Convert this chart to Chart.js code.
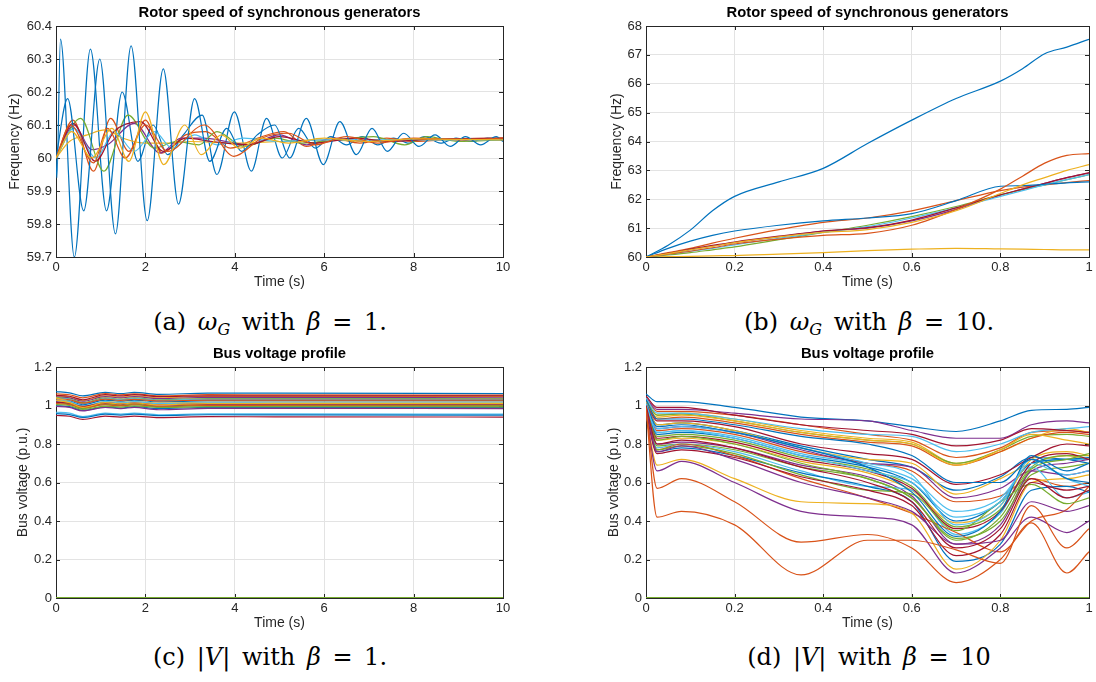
<!DOCTYPE html>
<html>
<head>
<meta charset="utf-8">
<script src="https://cdn.jsdelivr.net/npm/chart.js@4.4.1/dist/chart.umd.min.js"></script>
<style>
  body { margin: 0; background: #fff; width: 1096px; height: 682px; position: relative; overflow: hidden; }
  canvas { position: absolute; }
  .cap { position: absolute; width: 400px; text-align: center; font-family: 'DejaVu Serif', serif;
         font-size: 24px; line-height: 28px; word-spacing: 4px; color: #000; white-space: nowrap; }
  .cap sub { font-size: 16px; vertical-align: -5px; line-height: 0; }
</style>
</head>
<body>
<canvas id="chartA" width="548" height="300" style="left:0;top:0"></canvas>
<canvas id="chartB" width="548" height="300" style="left:548px;top:0"></canvas>
<canvas id="chartC" width="548" height="300" style="left:0;top:341px"></canvas>
<canvas id="chartD" width="548" height="300" style="left:548px;top:341px"></canvas>
<div class="cap" style="left:70px;top:308px">(a) <i>ω<sub>G</sub></i> with <i>β</i> = 1.</div>
<div class="cap" style="left:669px;top:308px">(b) <i>ω<sub>G</sub></i> with <i>β</i> = 10.</div>
<div class="cap" style="left:70px;top:643px">(c) |<i>V</i>| with <i>β</i> = 1.</div>
<div class="cap" style="left:669px;top:643px">(d) |<i>V</i>| with <i>β</i> = 10</div>
<script>
// matlab default line colours, cycled in plot order
const COLORS = ['#0072BD', '#D95319', '#EDB120', '#7E2F8E', '#77AC30', '#4DBEEE', '#A2142F'];

// ---- (a) rotor speed, beta = 1 : [time s, freq Hz] at turning points
const aGen1 = [[0,60],[0.02,59.94],[0.1,60.36],[0.41,59.7],[0.77,60.33],[1.13,59.84],[1.48,60.2],[1.83,59.99],[2.17,60.1],[2.5,60.01],[2.85,60.07],[3.27,60.13],[3.6,59.95],[3.99,60.14],[4.37,59.96],[4.71,60.12],[5.06,60.0],[5.43,60.09],[5.8,60.03],[6.15,60.065],[6.5,60.04],[6.85,60.065],[7.2,60.04],[7.55,60.06],[7.9,60.045],[8.25,60.065],[8.6,60.045],[8.95,60.06],[9.3,60.05],[9.65,60.06],[10,60.055]];
const aGen2 = [[0,60],[0.38,60.115],[0.84,59.96],[1.22,60.12],[1.63,60.02],[2.0,60.115],[2.37,60.015],[2.9,60.07],[3.35,60.08],[3.9,60.03],[4.5,60.06],[5.1,60.08],[5.6,60.035],[6.2,60.06],[6.8,60.045],[7.4,60.06],[8.0,60.05],[9.0,60.058],[10,60.06]];
const aGen3 = [[0,60],[0.3,60.05],[0.7,60.07],[1.1,60.085],[1.5,60.06],[2.0,60.045],[2.5,60.045],[3.0,60.05],[4.0,60.045],[5.0,60.05],[6.0,60.055],[7.0,60.05],[8.0,60.055],[10,60.055]];
const aGen4 = [[0,60],[0.4,60.1],[0.8,60.025],[1.15,60.04],[1.75,60.105],[2.33,60.015],[2.8,60.06],[3.3,60.06],[3.8,60.05],[4.3,60.04],[5.0,60.07],[5.6,60.04],[6.2,60.06],[7.0,60.05],[8.0,60.058],[10,60.055]];
const aGen5 = [[0,60],[0.55,60.12],[1.07,59.96],[1.61,60.13],[2.2,60.03],[2.7,60.05],[3.2,60.04],[3.6,60.08],[4.2,60.035],[4.9,60.06],[5.5,60.045],[6.3,60.055],[7.1,60.065],[7.8,60.04],[8.3,60.065],[9.0,60.05],[10,60.055]];
const aGen6 = [[0,60],[0.4,60.09],[0.9,60.0],[1.3,60.08],[1.75,60.02],[2.2,60.08],[2.6,60.03],[3.1,60.07],[3.6,60.04],[4.2,60.06],[5.0,60.05],[6.0,60.055],[10,60.055]];
const aGen7 = [[0,60],[0.38,60.105],[0.88,59.99],[1.3,60.08],[1.89,60.11],[2.4,60.02],[2.9,60.06],[3.5,60.05],[4.3,60.04],[5.0,60.065],[5.8,60.045],[6.7,60.06],[7.5,60.05],[8.5,60.058],[10,60.06]];
const aGen8 = [[0,60],[0.26,60.18],[0.62,59.84],[0.98,60.3],[1.33,59.77],[1.68,60.34],[2.04,59.81],[2.4,60.27],[2.74,59.86],[3.1,60.18],[3.44,59.99],[3.82,60.09],[4.15,60.02],[4.5,60.07],[4.89,60.1],[5.23,60.0],[5.6,60.12],[5.98,59.98],[6.35,60.11],[6.72,60.01],[7.07,60.09],[7.41,60.02],[7.78,60.075],[8.12,60.035],[8.48,60.07],[8.82,60.035],[9.16,60.065],[9.5,60.04],[9.85,60.065],[10,60.05]];
const aGen9 = [[0,60],[0.33,60.1],[0.84,59.985],[1.15,60.09],[1.55,60.0],[2.0,60.1],[2.5,60.02],[3.32,60.1],[3.98,60.005],[4.6,60.06],[5.2,60.075],[5.8,60.04],[6.5,60.065],[7.2,60.045],[8.0,60.06],[9.0,60.055],[10,60.06]];
const aGen10 = [[0,60],[0.35,60.08],[0.8,60.0],[1.25,60.09],[1.63,59.99],[2.0,60.14],[2.41,59.98],[2.88,60.1],[3.25,60.01],[3.7,60.07],[4.1,60.03],[4.6,60.06],[5.2,60.045],[6.0,60.06],[7.0,60.05],[8.0,60.058],[10,60.055]];
const aSeries = [aGen1, aGen2, aGen3, aGen4, aGen5, aGen6, aGen7, aGen8, aGen9, aGen10];

// ---- (b) rotor speed, beta = 10
const tB = [0, 0.05, 0.1, 0.15, 0.2, 0.3, 0.4, 0.5, 0.6, 0.7, 0.8, 0.85, 0.9, 0.95, 1];
const bGen1 = [60, 60.41, 60.93, 61.6, 62.1, 62.6, 63.07, 63.93, 64.74, 65.49, 66.09, 66.52, 67.04, 67.27, 67.54];
const bGen2 = [60, 60.15, 60.3, 60.48, 60.65, 60.95, 61.2, 61.35, 61.6, 61.95, 62.3, 62.42, 62.5, 62.58, 62.65];
const bGen3 = [60, 60.01, 60.02, 60.04, 60.05, 60.1, 60.15, 60.22, 60.27, 60.3, 60.28, 60.27, 60.26, 60.25, 60.25];
const bGen4 = [60, 60.12, 60.25, 60.38, 60.5, 60.7, 60.9, 61.0, 61.25, 61.65, 62.15, 62.35, 62.55, 62.75, 62.9];
const bGen5 = [60, 60.07, 60.15, 60.25, 60.35, 60.6, 60.85, 61.1, 61.4, 61.75, 62.15, 62.33, 62.5, 62.68, 62.85];
const bGen6 = [60, 60.1, 60.2, 60.3, 60.42, 60.65, 60.85, 61.05, 61.35, 61.7, 62.1, 62.3, 62.5, 62.68, 62.85];
const bGen7 = [60, 60.13, 60.27, 60.4, 60.52, 60.72, 60.9, 61.02, 61.28, 61.7, 62.15, 62.35, 62.55, 62.75, 62.92];
const bGen8 = [60, 60.3, 60.55, 60.75, 60.9, 61.1, 61.25, 61.35, 61.5, 61.95, 62.45, 62.47, 62.52, 62.57, 62.6];
const bGen9 = [60, 60.1, 60.2, 60.32, 60.45, 60.62, 60.75, 60.82, 61.1, 61.65, 62.35, 62.8, 63.25, 63.52, 63.58];
const bGen10 = [60, 60.12, 60.25, 60.37, 60.5, 60.7, 60.85, 60.95, 61.2, 61.6, 62.2, 62.5, 62.75, 63.0, 63.2];
const bSeries = [bGen1, bGen2, bGen3, bGen4, bGen5, bGen6, bGen7, bGen8, bGen9, bGen10];

// ---- (c) bus voltages, beta = 1
const tC = [0, 0.3, 0.6, 1.1, 1.45, 1.75, 2.3, 3.4, 4.9, 10];
const cBus = [
  [1.072, 1.066, 1.05, 1.068, 1.062, 1.068, 1.058, 1.064, 1.064, 1.062],
  [1.06, 1.056, 1.04, 1.062, 1.055, 1.06, 1.05, 1.056, 1.055, 1.054],
  [1.05, 1.045, 1.025, 1.05, 1.043, 1.05, 1.04, 1.047, 1.046, 1.046],
  [1.045, 1.04, 1.022, 1.046, 1.04, 1.046, 1.036, 1.042, 1.042, 1.04],
  [1.042, 1.035, 1.015, 1.04, 1.033, 1.04, 1.03, 1.036, 1.036, 1.035],
  [1.038, 1.032, 1.01, 1.036, 1.03, 1.036, 1.027, 1.032, 1.032, 1.031],
  [1.052, 1.048, 1.03, 1.056, 1.05, 1.056, 1.046, 1.05, 1.05, 1.05],
  [1.03, 1.024, 1.004, 1.028, 1.022, 1.028, 1.019, 1.024, 1.024, 1.024],
  [1.035, 1.03, 1.012, 1.033, 1.027, 1.032, 1.024, 1.028, 1.028, 1.028],
  [1.04, 1.02, 0.99, 1.02, 1.015, 1.02, 1.012, 1.017, 1.017, 1.017],
  [1.02, 1.012, 0.985, 1.01, 1.004, 1.012, 0.996, 1.006, 1.006, 1.005],
  [1.015, 1.008, 0.985, 1.006, 1.0, 1.007, 0.994, 1.0, 1.0, 1.0],
  [1.025, 1.02, 0.998, 1.02, 1.014, 1.02, 1.01, 1.014, 1.013, 1.012],
  [1.018, 1.012, 0.995, 1.014, 1.008, 1.013, 1.004, 1.008, 1.008, 1.008],
  [1.0, 0.994, 0.975, 0.993, 0.987, 0.994, 0.984, 0.99, 0.99, 0.99],
  [1.01, 1.005, 0.99, 1.004, 0.998, 1.004, 0.995, 1.0, 0.998, 0.996],
  [1.028, 1.015, 0.99, 1.015, 1.008, 1.013, 1.004, 1.01, 1.01, 1.01],
  [0.995, 0.99, 0.972, 0.99, 0.984, 0.99, 0.978, 0.985, 0.985, 0.984],
  [1.005, 1.0, 0.98, 0.997, 0.992, 0.998, 0.99, 0.994, 0.994, 0.993],
  [0.965, 0.96, 0.942, 0.96, 0.955, 0.96, 0.952, 0.956, 0.956, 0.955],
  [0.948, 0.944, 0.928, 0.945, 0.94, 0.945, 0.937, 0.942, 0.941, 0.94],
  [0.958, 0.953, 0.938, 0.955, 0.95, 0.955, 0.947, 0.952, 0.951, 0.95]
];
const cZero = [0, 0, 0, 0, 0, 0, 0, 0, 0, 0];

// ---- (d) bus voltages, beta = 10
const tD = [0, 0.025, 0.08, 0.2, 0.35, 0.5, 0.6, 0.7, 0.8, 0.87, 0.95, 1];
const dBus = [
  [1.06, 1.02, 1.02, 0.99, 0.94, 0.92, 0.89, 0.865, 0.92, 0.975, 0.98, 0.99],
  [1.04, 0.97, 0.97, 0.95, 0.9, 0.85, 0.82, 0.73, 0.78, 0.86, 0.87, 0.86],
  [1.03, 0.95, 0.96, 0.93, 0.87, 0.83, 0.81, 0.7, 0.76, 0.83, 0.88, 0.86],
  [1.04, 0.98, 0.98, 0.96, 0.93, 0.92, 0.87, 0.83, 0.83, 0.9, 0.92, 0.91],
  [1.03, 0.95, 0.955, 0.92, 0.86, 0.82, 0.8, 0.7, 0.77, 0.84, 0.85, 0.84],
  [1.04, 0.96, 0.96, 0.93, 0.88, 0.85, 0.84, 0.76, 0.8, 0.86, 0.88, 0.89],
  [1.05, 0.99, 0.99, 0.95, 0.9, 0.87, 0.85, 0.79, 0.82, 0.88, 0.87, 0.86],
  [1.02, 0.9, 0.91, 0.87, 0.79, 0.72, 0.68, 0.56, 0.63, 0.73, 0.72, 0.7],
  [1.01, 0.87, 0.88, 0.85, 0.76, 0.7, 0.66, 0.5, 0.53, 0.62, 0.58, 0.6],
  [1.01, 0.9, 0.91, 0.87, 0.78, 0.72, 0.7, 0.54, 0.62, 0.7, 0.74, 0.72],
  [1.01, 0.88, 0.89, 0.86, 0.77, 0.7, 0.68, 0.52, 0.57, 0.66, 0.64, 0.66],
  [1.0, 0.84, 0.85, 0.82, 0.73, 0.67, 0.58, 0.37, 0.46, 0.68, 0.74, 0.74],
  [1.0, 0.86, 0.87, 0.84, 0.75, 0.69, 0.62, 0.45, 0.52, 0.7, 0.72, 0.72],
  [1.02, 0.92, 0.92, 0.89, 0.8, 0.75, 0.72, 0.59, 0.64, 0.73, 0.8, 0.79],
  [1.0, 0.85, 0.86, 0.83, 0.74, 0.68, 0.6, 0.4, 0.5, 0.7, 0.72, 0.73],
  [1.02, 0.93, 0.94, 0.91, 0.85, 0.81, 0.79, 0.69, 0.76, 0.83, 0.86, 0.85],
  [0.99, 0.82, 0.83, 0.8, 0.71, 0.65, 0.56, 0.39, 0.48, 0.72, 0.76, 0.74],
  [0.99, 0.8, 0.81, 0.78, 0.69, 0.63, 0.53, 0.28, 0.38, 0.66, 0.7, 0.72],
  [0.98, 0.79, 0.8, 0.77, 0.68, 0.62, 0.52, 0.31, 0.4, 0.64, 0.68, 0.7],
  [0.98, 0.78, 0.8, 0.76, 0.66, 0.58, 0.56, 0.33, 0.44, 0.68, 0.52, 0.55],
  [0.99, 0.83, 0.84, 0.81, 0.72, 0.66, 0.57, 0.36, 0.45, 0.7, 0.75, 0.72],
  [0.97, 0.76, 0.78, 0.74, 0.65, 0.58, 0.5, 0.19, 0.28, 0.56, 0.58, 0.55],
  [0.98, 0.77, 0.8, 0.74, 0.62, 0.52, 0.44, 0.34, 0.24, 0.4, 0.46, 0.58],
  [0.96, 0.69, 0.72, 0.62, 0.5, 0.49, 0.44, 0.15, 0.3, 0.6, 0.62, 0.64],
  [0.96, 0.66, 0.71, 0.6, 0.45, 0.42, 0.38, 0.13, 0.26, 0.42, 0.34, 0.4],
  [0.98, 0.77, 0.79, 0.75, 0.64, 0.56, 0.54, 0.35, 0.5, 0.59, 0.49, 0.52],
  [1.0, 0.88, 0.89, 0.86, 0.78, 0.7, 0.64, 0.38, 0.48, 0.72, 0.62, 0.58],
  [0.97, 0.75, 0.77, 0.73, 0.63, 0.56, 0.48, 0.22, 0.33, 0.6, 0.56, 0.58],
  [1.01, 0.89, 0.9, 0.86, 0.78, 0.68, 0.55, 0.32, 0.45, 0.74, 0.66, 0.7],
  [0.99, 0.57, 0.62, 0.5, 0.29, 0.33, 0.26, 0.08, 0.2, 0.39, 0.13, 0.24],
  [1.02, 0.94, 0.95, 0.92, 0.86, 0.82, 0.8, 0.69, 0.77, 0.85, 0.82, 0.8],
  [1.0, 0.76, 0.79, 0.72, 0.6, 0.52, 0.45, 0.28, 0.3, 0.5, 0.45, 0.48],
  [1.0, 0.82, 0.84, 0.8, 0.7, 0.62, 0.52, 0.3, 0.42, 0.67, 0.72, 0.75],
  [1.01, 0.86, 0.87, 0.83, 0.74, 0.66, 0.6, 0.42, 0.5, 0.7, 0.64, 0.66],
  [1.0, 0.8, 0.82, 0.78, 0.68, 0.6, 0.5, 0.26, 0.36, 0.62, 0.52, 0.56],
  [1.03, 0.93, 0.93, 0.9, 0.84, 0.8, 0.74, 0.6, 0.6, 0.72, 0.62, 0.6],
  [0.99, 0.42, 0.45, 0.38, 0.12, 0.3, 0.3, 0.25, 0.18, 0.48, 0.26, 0.36]
];
const dZero = [0, 0, 0, 0, 0, 0, 0, 0, 0, 0, 0, 0];

const FONT = "'Liberation Sans', Arial, Helvetica, sans-serif";
const AXIS_GREY = '#262626';

// box around the plot plus short inward ticks on all four sides, like matlab
const matlabBox = {
  id: 'matlabBox',
  beforeDatasetsDraw(chart) {
    const { ctx, chartArea: { left, right, top, bottom }, scales: { x, y } } = chart;
    const len = 4;
    ctx.save();
    ctx.strokeStyle = AXIS_GREY;
    ctx.lineWidth = 1;
    ctx.beginPath();
    x.ticks.forEach(t => {
      const px = Math.round(x.getPixelForValue(t.value)) + 0.5;
      ctx.moveTo(px, bottom); ctx.lineTo(px, bottom - len);
      ctx.moveTo(px, top); ctx.lineTo(px, top + len);
    });
    y.ticks.forEach(t => {
      const py = Math.round(y.getPixelForValue(t.value)) + 0.5;
      ctx.moveTo(left, py); ctx.lineTo(left + len, py);
      ctx.moveTo(right, py); ctx.lineTo(right - len, py);
    });
    ctx.stroke();
    ctx.strokeRect(Math.round(left) + 0.5, Math.round(top) + 0.5, Math.round(right - left), Math.round(bottom - top));
    ctx.restore();
  }
};

function lineSet(points, color, i, n, width) {
  return {
    data: points,
    borderColor: color,
    borderWidth: width || 1.2,
    pointRadius: 0,
    fill: false,
    cubicInterpolationMode: 'monotone',
    order: n - i   // later series on top, as in matlab
  };
}

function makeChart(id, datasets, cfg) {
  // title box is kept 26px high whatever its font size
  const titleLine = cfg.titleSize * 1.2;
  return new Chart(document.getElementById(id), {
    type: 'line',
    data: { datasets: datasets },
    options: {
      responsive: false,
      animation: false,
      layout: { padding: { left: 0, right: cfg.padRight, top: 0, bottom: 0 } },
      plugins: {
        legend: { display: false },
        tooltip: { enabled: false },
        title: {
          display: true,
          text: cfg.title,
          fullSize: false,
          color: '#000',
          font: { family: FONT, size: cfg.titleSize, weight: 'bold', lineHeight: 1.2 },
          padding: { top: 4.5, bottom: 26 - 4.5 - titleLine }
        }
      },
      scales: {
        x: {
          type: 'linear',
          min: 0,
          max: cfg.xMax,
          afterFit: s => { s.height = 43; },
          grid: { color: '#e3e3e3', drawTicks: false },
          border: { display: false },
          ticks: {
            stepSize: cfg.xStep, autoSkip: false, maxRotation: 0, padding: 3,
            color: AXIS_GREY, font: { family: FONT, size: 13 },
            callback: v => String(+v.toFixed(2))
          },
          title: {
            display: true, text: 'Time (s)', color: AXIS_GREY,
            font: { family: FONT, size: 14 }, padding: { top: 0, bottom: 9.6 }
          }
        },
        y: {
          type: 'linear',
          min: cfg.yMin,
          max: cfg.yMax,
          afterFit: s => { s.width = cfg.yWidth; },
          grid: { color: '#e3e3e3', drawTicks: false },
          border: { display: false },
          ticks: {
            stepSize: cfg.yStep, autoSkip: false, padding: 4,
            color: AXIS_GREY, font: { family: FONT, size: 13 },
            callback: v => String(+v.toFixed(2))
          },
          title: {
            display: true, text: cfg.yTitle, color: AXIS_GREY,
            font: { family: FONT, size: 14 }, padding: { top: cfg.yTitlePad, bottom: 0 }
          }
        }
      }
    },
    plugins: [matlabBox]
  });
}

// (a)
const aSets = aSeries.map((s, i) =>
  lineSet(s.map(p => ({ x: p[0], y: p[1] })), COLORS[i % 7], i, aSeries.length));
makeChart('chartA', aSets, {
  title: 'Rotor speed of synchronous generators', titleSize: 14.8, yTitle: 'Frequency (Hz)',
  xMax: 10, xStep: 2, yMin: 59.7, yMax: 60.4, yStep: 0.1,
  yWidth: 56, yTitlePad: 6.6, padRight: 45
});

// (b)
const bSets = bSeries.map((s, i) =>
  lineSet(s.map((v, k) => ({ x: tB[k], y: v })), COLORS[i % 7], i, bSeries.length));
makeChart('chartB', bSets, {
  title: 'Rotor speed of synchronous generators', titleSize: 14.8, yTitle: 'Frequency (Hz)',
  xMax: 1, xStep: 0.2, yMin: 60, yMax: 68, yStep: 1,
  yWidth: 98, yTitlePad: 60.6, padRight: 7
});

// (c)
const cSets = cBus.map((s, i) =>
  lineSet(s.map((v, k) => ({ x: tC[k], y: v })), COLORS[i % 7], i, cBus.length + 1));
cSets.push(lineSet(cZero.map((v, k) => ({ x: tC[k], y: v })), COLORS[4], cBus.length, cBus.length + 1, 2));
makeChart('chartC', cSets, {
  title: 'Bus voltage profile', titleSize: 14.8, yTitle: 'Bus voltage (p.u.)',
  xMax: 10, xStep: 2, yMin: 0, yMax: 1.2, yStep: 0.2,
  yWidth: 56, yTitlePad: 14.6, padRight: 45
});

// (d)
const dSets = dBus.map((s, i) =>
  lineSet(s.map((v, k) => ({ x: tD[k], y: v })), COLORS[i % 7], i, dBus.length + 1));
dSets.push(lineSet(dZero.map((v, k) => ({ x: tD[k], y: v })), COLORS[4], dBus.length, dBus.length + 1, 2));
makeChart('chartD', dSets, {
  title: 'Bus voltage profile', titleSize: 14.8, yTitle: 'Bus voltage (p.u.)',
  xMax: 1, xStep: 0.2, yMin: 0, yMax: 1.2, yStep: 0.2,
  yWidth: 98, yTitlePad: 57.6, padRight: 7
});
</script>
</body>
</html>
